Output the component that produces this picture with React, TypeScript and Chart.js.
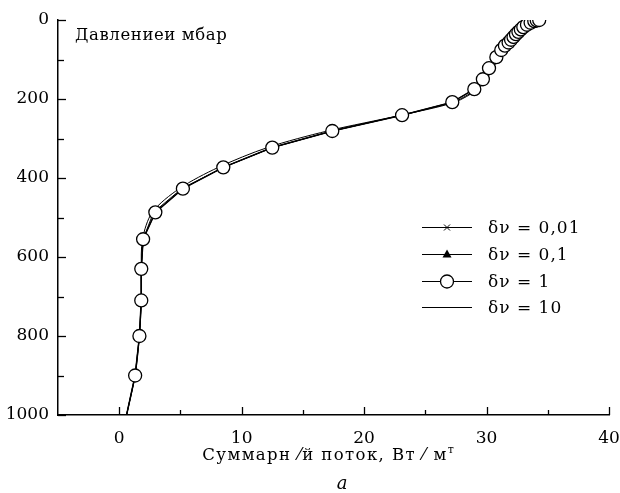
import React, { useEffect, useRef } from "react";
import { Chart, registerables } from "chart.js";

Chart.register(...registerables);

// Pressure levels (mbar)
const pressure = [1000, 900, 800, 710, 630, 555, 487, 427, 373, 323, 281, 241, 208, 175, 150, 122, 94, 76, 65, 57, 50, 43, 36, 30, 24, 18, 12, 7, 3, 1, 0];
// Total flux, W/m2, for each spectral resolution
const flux001 = [0.6, 1.3, 1.65, 1.8, 1.8, 1.95, 2.8, 5.1, 8.5, 12.5, 17.4, 23.1, 27.4, 29.3, 30.0, 30.5, 31.0, 31.4, 31.7, 32.0, 32.2, 32.4, 32.6, 32.8, 33.0, 33.2, 33.5, 33.8, 34.0, 34.2, 34.3];
const flux01 = [0.6, 1.3, 1.65, 1.8, 1.8, 1.95, 2.95, 5.2, 8.5, 12.5, 17.4, 23.1, 27.2, 29.0, 29.7, 30.2, 30.8, 31.2, 31.5, 31.8, 32.0, 32.2, 32.4, 32.6, 32.8, 33.0, 33.3, 33.6, 33.9, 34.1, 34.3];
const flux1 = [0.6, 1.3, 1.65, 1.8, 1.8, 1.95, 2.95, 5.2, 8.5, 12.5, 17.4, 23.1, 27.2, 29.0, 29.7, 30.2, 30.8, 31.2, 31.5, 31.8, 32.0, 32.2, 32.4, 32.6, 32.8, 33.0, 33.3, 33.6, 33.9, 34.1, 34.3];
const flux10 = [0.6, 1.3, 1.65, 1.8, 1.8, 1.9, 2.7, 4.9, 8.1, 12.1, 17.0, 23.0, 27.4, 29.3, 30.0, 30.5, 31.1, 31.5, 31.8, 32.1, 32.3, 32.5, 32.7, 32.9, 33.1, 33.3, 33.6, 33.9, 34.1, 34.2, 34.4];

const xMajorTicks = [0, 10, 20, 30, 40];
const xMinorTicks = [5, 15, 25, 35];
const yMajorTicks = [0, 200, 400, 600, 800, 1000];
const yMinorTicks = [100, 300, 500, 700, 900];

const legendLabels = ["δν = 0,01", "δν = 0,1", "δν = 1", "δν = 10"];
const yTitle = "Давлениеи мбар";
const xTitle = "Суммарн ⁄й поток, Вт ⁄ м";
const xTitleSup = "т";
const panelLabel = "a";

const FONT = "'DejaVu Serif', 'Liberation Serif', serif";

const toPts = (xs: number[]) => xs.map((x, i) => ({ x, y: pressure[i] }));

function drawMarker(ctx: CanvasRenderingContext2D, kind: string, x: number, y: number) {
  ctx.save();
  ctx.strokeStyle = "#000";
  ctx.fillStyle = "#000";
  ctx.lineWidth = 1;
  if (kind === "cross") {
    ctx.beginPath();
    ctx.moveTo(x - 3, y - 3);
    ctx.lineTo(x + 3, y + 3);
    ctx.moveTo(x + 3, y - 3);
    ctx.lineTo(x - 3, y + 3);
    ctx.stroke();
  } else if (kind === "tri") {
    ctx.beginPath();
    ctx.moveTo(x, y - 5);
    ctx.lineTo(x + 4.5, y + 3);
    ctx.lineTo(x - 4.5, y + 3);
    ctx.closePath();
    ctx.fill();
  } else if (kind === "circle") {
    ctx.beginPath();
    ctx.arc(x, y, 6.5, 0, Math.PI * 2);
    ctx.fillStyle = "#fff";
    ctx.fill();
    ctx.lineWidth = 1.3;
    ctx.stroke();
  }
  ctx.restore();
}

const decorPlugin = {
  id: "decor",
  afterDraw(chart: any) {
    const ctx: any = chart.ctx;
    const xs = chart.scales.x;
    const ys = chart.scales.y;
    const area = chart.chartArea;
    ctx.save();
    ctx.strokeStyle = "#000";
    ctx.lineWidth = 1.3;
    xMajorTicks.forEach((v) => {
      const px = Math.round(xs.getPixelForValue(v)) + 0.5;
      ctx.beginPath();
      ctx.moveTo(px, area.bottom);
      ctx.lineTo(px, area.bottom - 8);
      ctx.stroke();
    });
    xMinorTicks.forEach((v) => {
      const px = Math.round(xs.getPixelForValue(v)) + 0.5;
      ctx.beginPath();
      ctx.moveTo(px, area.bottom);
      ctx.lineTo(px, area.bottom - 5);
      ctx.stroke();
    });
    yMajorTicks.forEach((v) => {
      const py = Math.round(ys.getPixelForValue(v)) + 0.5;
      ctx.beginPath();
      ctx.moveTo(area.left, py);
      ctx.lineTo(area.left + 8, py);
      ctx.stroke();
    });
    yMinorTicks.forEach((v) => {
      const py = Math.round(ys.getPixelForValue(v)) + 0.5;
      ctx.beginPath();
      ctx.moveTo(area.left, py);
      ctx.lineTo(area.left + 6, py);
      ctx.stroke();
    });

    ctx.fillStyle = "#000";
    ctx.font = `16.5px ${FONT}`;
    ctx.letterSpacing = "0.6px";
    ctx.textAlign = "left";
    ctx.textBaseline = "alphabetic";
    ctx.fillText(yTitle, 75, 40);

    ctx.font = `16.5px ${FONT}`;
    ctx.letterSpacing = "1.4px";
    const w = ctx.measureText(xTitle).width;
    ctx.font = `11px ${FONT}`;
    ctx.letterSpacing = "0px";
    const ws = ctx.measureText(xTitleSup).width;
    const startX = 328 - (w + ws) / 2;
    ctx.font = `16.5px ${FONT}`;
    ctx.letterSpacing = "1.4px";
    ctx.fillText(xTitle, startX, 460);
    ctx.font = `11px ${FONT}`;
    ctx.letterSpacing = "0px";
    ctx.fillText(xTitleSup, startX + w, 453);

    ctx.font = `italic 18px ${FONT}`;
    ctx.textAlign = "center";
    ctx.fillText(panelLabel, 342, 489);

    const kinds = ["cross", "tri", "circle", "none"];
    const rowY = [227, 254, 281, 307];
    ctx.textAlign = "left";
    ctx.textBaseline = "middle";
    kinds.forEach((k, i) => {
      const y = rowY[i] + 0.5;
      ctx.lineWidth = 1;
      ctx.strokeStyle = "#000";
      ctx.beginPath();
      ctx.moveTo(422, y);
      ctx.lineTo(472, y);
      ctx.stroke();
      drawMarker(ctx, k, 447, y);
      ctx.fillStyle = "#000";
      ctx.font = `17px ${FONT}`;
      ctx.letterSpacing = "1px";
      ctx.fillText(legendLabels[i], 488, y + 1);
      ctx.letterSpacing = "0px";
    });
    ctx.restore();
  },
};

export default function App() {
  const ref = useRef<HTMLCanvasElement | null>(null);
  useEffect(() => {
    document.body.style.margin = "0";
    const canvas = ref.current!;
    const noFirst = (r: number) => (c: any) => (c.dataIndex === 0 ? 0 : r);
    const chart = new Chart(canvas, {
      type: "scatter",
      data: {
        datasets: [
          {
            label: legendLabels[3],
            data: toPts(flux10),
            showLine: true,
            borderColor: "#000",
            borderWidth: 1,
            pointRadius: 0,
            tension: 0.3,
            order: 4,
          },
          {
            label: legendLabels[0],
            data: toPts(flux001),
            showLine: true,
            borderColor: "#000",
            borderWidth: 1,
            pointStyle: "crossRot",
            pointRadius: noFirst(3),
            pointBorderColor: "#000",
            pointBorderWidth: 1,
            order: 3,
          },
          {
            label: legendLabels[1],
            data: toPts(flux01),
            showLine: true,
            borderColor: "#000",
            borderWidth: 1,
            pointStyle: "triangle",
            pointRadius: noFirst(4),
            pointBackgroundColor: "#000",
            pointBorderColor: "#000",
            order: 2,
          },
          {
            label: legendLabels[2],
            data: toPts(flux1),
            showLine: true,
            borderColor: "#000",
            borderWidth: 1.5,
            pointStyle: "circle",
            pointRadius: noFirst(6.5),
            pointBackgroundColor: "#fff",
            pointBorderColor: "#000",
            pointBorderWidth: 1.3,
            order: 1,
          },
        ],
      },
      options: {
        animation: false,
        responsive: false,
        maintainAspectRatio: false,
        layout: { padding: { top: 20, right: 0, left: 0, bottom: 0 } },
        plugins: { legend: { display: false }, tooltip: { enabled: false }, title: { display: false } },
        scales: {
          x: {
            type: "linear",
            min: -5,
            max: 40,
            grid: { display: false, drawTicks: false },
            border: { display: true, color: "#000", width: 1.5 },
            afterBuildTicks: (s: any) => {
              s.ticks = xMajorTicks.map((v) => ({ value: v }));
            },
            afterFit: (s: any) => {
              s.height = 78;
              s.paddingRight = 11;
              s.paddingLeft = 0;
            },
            ticks: { color: "#000", font: { family: FONT, size: 17 }, padding: 13, maxRotation: 0, callback: (v: any) => String(v) },
          },
          y: {
            type: "linear",
            reverse: true,
            min: 0,
            max: 1000,
            grid: { display: false, drawTicks: false },
            border: { display: true, color: "#000", width: 1.5 },
            afterBuildTicks: (s: any) => {
              s.ticks = yMajorTicks.map((v) => ({ value: v }));
            },
            afterFit: (s: any) => {
              s.width = 58;
            },
            ticks: { color: "#000", font: { family: FONT, size: 17 }, padding: 9, callback: (v: any) => String(v) },
          },
        },
      },
      plugins: [decorPlugin],
    } as any);
    return () => chart.destroy();
  }, []);
  return (
    <div style={{ position: "fixed", left: 0, top: 0, width: 620, height: 493, background: "#fff" }}>
      <canvas ref={ref} width={620} height={493} style={{ width: 620, height: 493 }} />
    </div>
  );
}
